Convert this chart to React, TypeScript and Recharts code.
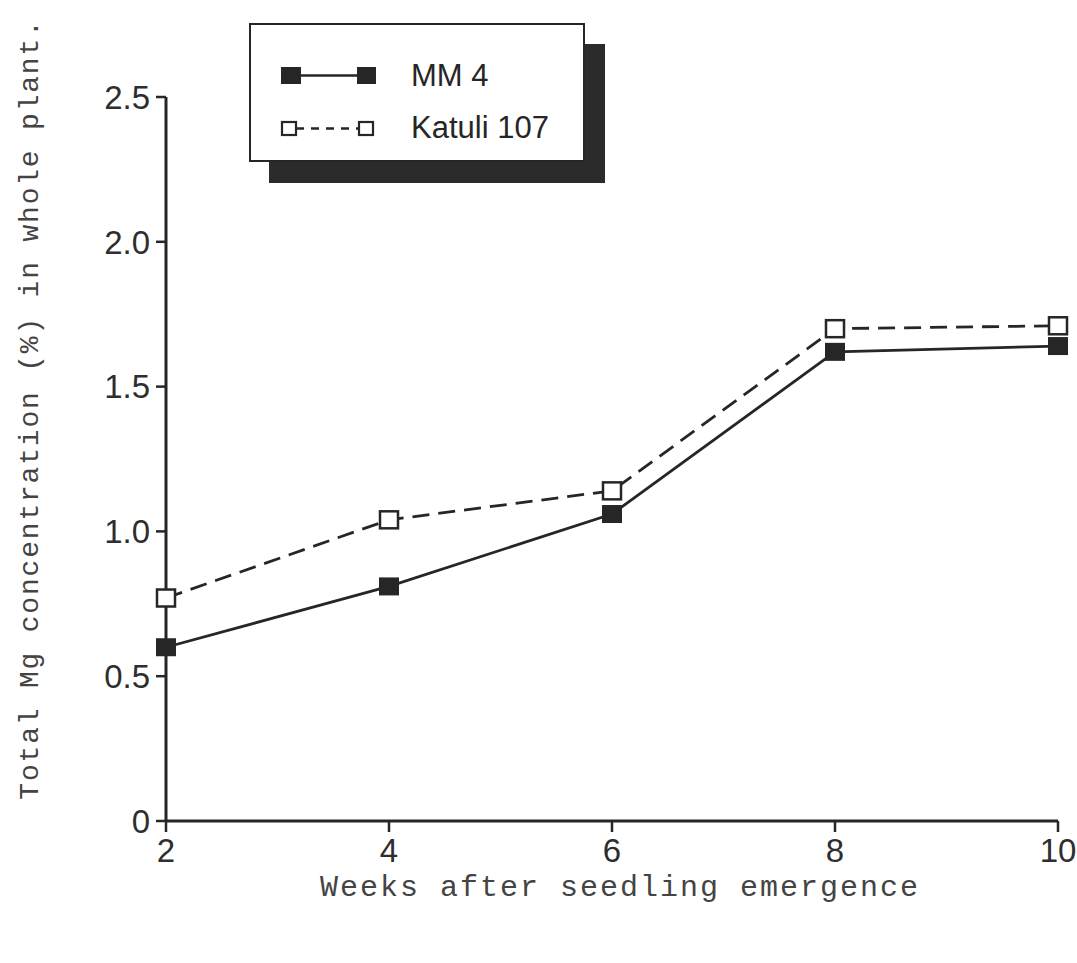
import React from "react";
import { LineChart, Line, XAxis, YAxis, Legend, Label } from "recharts";

const weeks = [2, 4, 6, 8, 10];
const mm4 = [0.6, 0.81, 1.06, 1.62, 1.64];
const katuli107 = [0.77, 1.04, 1.14, 1.7, 1.71];
const yTicks = [0, 0.5, 1.0, 1.5, 2.0, 2.5];
const seriesNames = ["MM 4", "Katuli 107"];

const data = weeks.map((w, i) => ({ week: w, mm4: mm4[i], katuli: katuli107[i] }));

const INK = "#262626";
const tickFont = { fontFamily: "Liberation Sans, Arial, sans-serif", fontSize: 33, fill: "#2e2e2e" };

function FilledSquare(props: any) {
  const { cx, cy } = props;
  if (cx == null || cy == null) return null;
  return <rect x={cx - 10} y={cy - 9} width={20} height={18} fill={INK} />;
}

function OpenSquare(props: any) {
  const { cx, cy } = props;
  if (cx == null || cy == null) return null;
  return <rect x={cx - 9} y={cy - 8.5} width={18} height={17} fill="#fff" stroke={INK} strokeWidth={2.5} />;
}

function LegendBox() {
  const textStyle: React.CSSProperties = {
    position: "absolute",
    left: 160,
    fontFamily: "Liberation Sans, Arial, sans-serif",
    fontSize: 31,
    color: INK,
    lineHeight: "34px",
    whiteSpace: "nowrap",
  };
  return (
    <div
      style={{
        position: "relative",
        width: 332,
        height: 135,
        border: `2.5px solid ${INK}`,
        background: "#fff",
        boxShadow: `20px 21px 0 #2b2b2b`,
      }}
    >
      <svg style={{ position: "absolute", left: 28, top: 40 }} width={100} height={80}>
        <rect x={2} y={2} width={20} height={17} fill={INK} />
        <line x1={22} y1={10.5} x2={78} y2={10.5} stroke={INK} strokeWidth={2.5} />
        <rect x={78} y={2} width={19} height={17} fill={INK} />
        <rect x={3} y={57} width={14} height={13} fill="#fff" stroke={INK} strokeWidth={2.2} />
        <line x1={17} y1={63.5} x2={79} y2={63.5} stroke={INK} strokeWidth={2.5} strokeDasharray="8 7" />
        <rect x={80} y={57} width={14} height={13} fill="#fff" stroke={INK} strokeWidth={2.2} />
      </svg>
      <div style={{ ...textStyle, top: 34 }}>{seriesNames[0]}</div>
      <div style={{ ...textStyle, top: 86 }}>{seriesNames[1]}</div>
    </div>
  );
}

function XTitle(props: any) {
  const { viewBox } = props;
  const x = viewBox.x + viewBox.width / 2 + 8;
  const y = viewBox.y + viewBox.height + 35;
  return (
    <text
      x={x}
      y={y}
      textAnchor="middle"
      style={{ fontFamily: "Liberation Mono, Courier New, monospace", fontSize: 30, letterSpacing: 2, fill: "#444" }}
    >
      Weeks after seedling emergence
    </text>
  );
}

function YTitle(props: any) {
  const { viewBox } = props;
  const x = 38;
  const y = viewBox.y + viewBox.height / 2 - 50;
  return (
    <text
      x={x}
      y={y}
      textAnchor="middle"
      transform={`rotate(-90, ${x}, ${y})`}
      style={{ fontFamily: "Liberation Mono, Courier New, monospace", fontSize: 28, letterSpacing: 1.8, fill: "#444" }}
    >
      Total Mg concentration (%) in whole plant.
    </text>
  );
}

export default function App() {
  return (
    <div style={{ position: "absolute", left: 0, top: 0, width: 1077, height: 963, background: "#fff" }}>
      <LineChart width={1077} height={963} data={data} margin={{ top: 97, right: 19, bottom: 102, left: 66 }}>
        <XAxis
          dataKey="week"
          type="number"
          domain={[2, 10]}
          ticks={weeks}
          stroke={INK}
          strokeWidth={3}
          tickSize={11}
          tickMargin={7}
          tick={tickFont}
          height={40}
          tickLine={{ stroke: INK, strokeWidth: 2.5 }}
        >
          <Label content={<XTitle />} position="bottom" />
        </XAxis>
        <YAxis
          type="number"
          domain={[0, 2.5]}
          ticks={yTicks}
          width={100}
          stroke={INK}
          strokeWidth={3}
          tickSize={10}
          tickMargin={6}
          tick={tickFont}
          tickFormatter={(v: number) => (v === 0 ? "0" : v.toFixed(1))}
          tickLine={{ stroke: INK, strokeWidth: 2.5 }}
        >
          <Label content={<YTitle />} position="left" />
        </YAxis>
        <Legend
          layout="horizontal"
          verticalAlign="middle"
          align="center"
          content={() => <LegendBox />}
          wrapperStyle={{ position: "absolute", left: 249, top: 23, width: "auto", height: "auto" }}
        />
        <Line
          dataKey="mm4"
          name={seriesNames[0]}
          stroke={INK}
          strokeWidth={2.8}
          dot={<FilledSquare />}
          isAnimationActive={false}
        />
        <Line
          dataKey="katuli"
          name={seriesNames[1]}
          stroke={INK}
          strokeWidth={2.8}
          strokeDasharray="17 9"
          dot={<OpenSquare />}
          isAnimationActive={false}
        />
      </LineChart>
    </div>
  );
}
